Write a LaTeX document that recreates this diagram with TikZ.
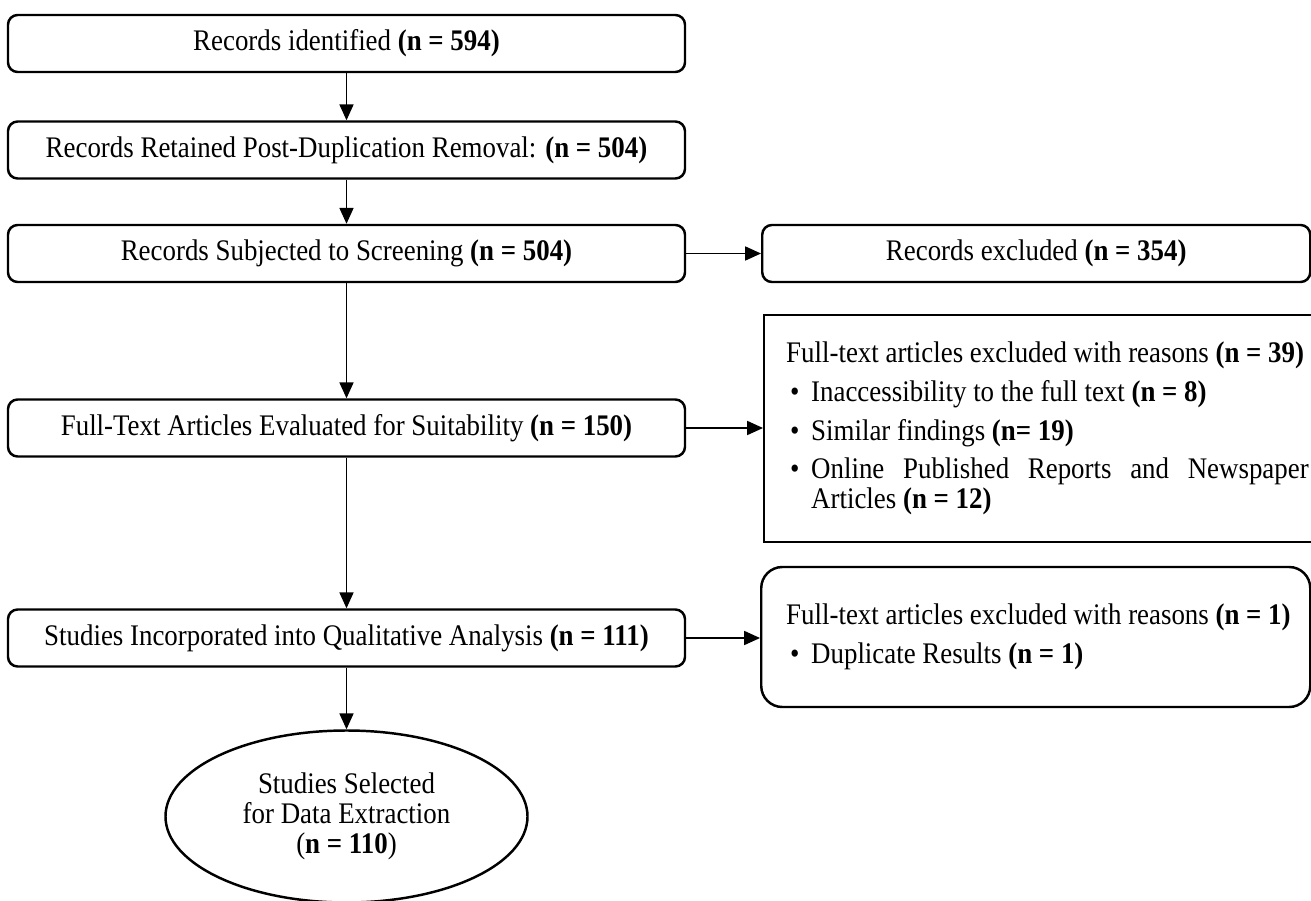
\documentclass[tikz,border=0pt]{standalone}
\usepackage{fontspec}
\setmainfont{Liberation Serif}[FakeStretch=0.9]
\usetikzlibrary{arrows.meta,shapes.geometric}

% bullet line with hanging indent for the exclusion lists
\newcommand{\reason}[1]{\par\vspace{5pt}\hangindent=0.5cm\hangafter=1\noindent\hspace*{0.08cm}\makebox[0.42cm][l]{\textbullet}#1}

\begin{document}
\begin{tikzpicture}[every node/.style={font=\fontsize{17}{17}\selectfont},
  stage/.style={draw,line width=1.4pt,rounded corners=5.5pt,minimum width=13.54cm,minimum height=1.14cm,inner sep=0pt},
  outbox/.style={draw,line width=1.4pt,anchor=west},
  flow/.style={-{Triangle[length=9pt,width=8pt]},line width=0.7pt}]
\useasboundingbox (0,0) rectangle (26.22,-18.02);
% Main column
\node[stage] (ident) at (6.93,-0.87) {Records identified \textbf{(n = 594)}};
\node[stage] (dedup) at (6.93,-3.0) {Records Retained Post-Duplication Removal: \textbf{(n = 504)}};
\node[stage] (screen) at (6.93,-5.07) {Records Subjected to Screening \textbf{(n = 504)}};
\node[stage] (elig) at (6.93,-8.56) {Full-Text Articles Evaluated for Suitability \textbf{(n = 150)}};
\node[stage] (qual) at (6.93,-12.76) {Studies Incorporated into Qualitative Analysis \textbf{(n = 111)}};
\node[draw,ellipse,line width=1.4pt,minimum width=7.24cm,minimum height=3.44cm,inner sep=0pt,align=center] (final) at (6.93,-16.33)
  {Studies Selected\\for Data Extraction\\(\textbf{n = 110})};
% Exclusions on the right
\node[outbox,rounded corners=5.5pt,minimum width=10.96cm,minimum height=1.14cm] (excl) at (15.22,-5.07) {Records excluded \textbf{(n = 354)}};
\node[outbox,text width=10.45cm,inner xsep=0.44cm,minimum height=4.54cm,align=justify] (ftexcl) at (15.26,-8.57)
  {Full-text articles excluded with reasons \textbf{(n = 39)}%
   \reason{Inaccessibility to the full text \textbf{(n = 8)}}%
   \reason{Similar findings \textbf{(n= 19)}}%
   \reason{Online Published Reports and Newspaper\linebreak Articles \textbf{(n = 12)}}\par};
\node[outbox,rounded corners=12pt,text width=10.98cm,inner xsep=0pt,minimum height=2.8cm,align=justify] (dupl) at (15.20,-12.74)
  {\leftskip=0.5cm
   Full-text articles excluded with reasons \textbf{(n = 1)}%
   \reason{Duplicate Results \textbf{(n = 1)}}\par\vspace{12pt}};
% Connectors
\draw[flow] (ident) -- (dedup);
\draw[flow] (dedup) -- (screen);
\draw[flow] (screen) -- (elig);
\draw[flow] (elig) -- (qual);
\draw[flow] (qual) -- (final);
\draw[flow] (screen) -- (excl);
\draw[flow] (elig.east) -- (elig.east -| ftexcl.west);
\draw[flow] (qual.east) -- (qual.east -| dupl.west);
\end{tikzpicture}
\end{document}
